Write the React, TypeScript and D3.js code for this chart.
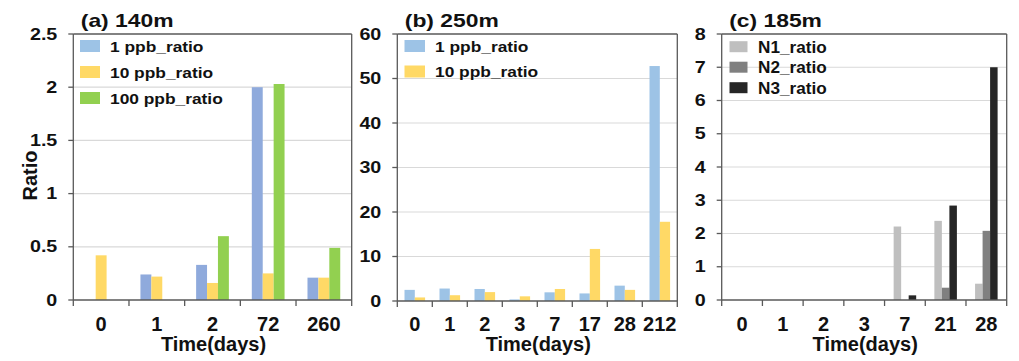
import React from "react";
import * as d3 from "d3";

// ---------- data ----------
const catsA = ["0", "1", "2", "72", "260"];
const a1ppb = [0, 0.24, 0.33, 2.0, 0.21];
const a10ppb = [0.42, 0.22, 0.16, 0.25, 0.21];
const a100ppb = [0, 0, 0.6, 2.03, 0.49];
const ticksA = [0, 0.5, 1, 1.5, 2, 2.5];
const ticksALabels = ["0", "0.5", "1", "1.5", "2", "2.5"];

const catsB = ["0", "1", "2", "3", "7", "17", "28", "212"];
const b1ppb = [2.5, 2.8, 2.7, 0.35, 1.95, 1.7, 3.45, 52.8];
const b10ppb = [0.8, 1.3, 2.0, 1.05, 2.7, 11.7, 2.5, 17.8];
const ticksB = [0, 10, 20, 30, 40, 50, 60];

const catsC = ["0", "1", "2", "3", "7", "21", "28"];
const cN1 = [0, 0, 0, 0, 2.21, 2.38, 0.49];
const cN2 = [0, 0, 0, 0, 0, 0.37, 2.08];
const cN3 = [0, 0, 0, 0, 0.14, 2.84, 7.0];
const ticksC = [0, 1, 2, 3, 4, 5, 6, 7, 8];

const FONT = "'Liberation Sans', Arial, sans-serif";
const AXIS = "#595959";
const GRID = "#d9d9d9";

type Series = { name: string; values: number[]; color: string; legendColor: string };
type Panel = {
  title: string;
  cats: string[];
  series: Series[];
  ticks: number[];
  tickLabels: string[];
  yMax: number;
  left: number;
  right: number;
  top: number;
  bottom: number;
  padOuter: number;
  legend: { x: number; y0: number; dy: number; sw: number; sh: number; tx: number; fs: number; sx: number };
};

const panels: Panel[] = [
  {
    title: "(a) 140m",
    cats: catsA,
    series: [
      { name: "1 ppb_ratio", values: a1ppb, color: "#8faadc", legendColor: "#9dc3e6" },
      { name: "10 ppb_ratio", values: a10ppb, color: "#ffd966", legendColor: "#ffd966" },
      { name: "100 ppb_ratio", values: a100ppb, color: "#92d050", legendColor: "#92d050" },
    ],
    ticks: ticksA,
    tickLabels: ticksALabels,
    yMax: 2.5,
    left: 73.3,
    right: 351.7,
    top: 34,
    bottom: 300,
    padOuter: 1.05,
    legend: { x: 80, y0: 46, dy: 26, sw: 20, sh: 12, tx: 110, fs: 15.5, sx: 1.12 },
  },
  {
    title: "(b) 250m",
    cats: catsB,
    series: [
      { name: "1 ppb_ratio", values: b1ppb, color: "#9dc3e6", legendColor: "#9dc3e6" },
      { name: "10 ppb_ratio", values: b10ppb, color: "#ffd966", legendColor: "#ffd966" },
    ],
    ticks: ticksB,
    tickLabels: ticksB.map(String),
    yMax: 60,
    left: 397.3,
    right: 677.3,
    top: 34,
    bottom: 301,
    padOuter: 0.7,
    legend: { x: 404.5, y0: 46, dy: 25.5, sw: 20.5, sh: 12, tx: 435, fs: 15.5, sx: 1.12 },
  },
  {
    title: "(c) 185m",
    cats: catsC,
    series: [
      { name: "N1_ratio", values: cN1, color: "#bfbfbf", legendColor: "#bfbfbf" },
      { name: "N2_ratio", values: cN2, color: "#808080", legendColor: "#808080" },
      { name: "N3_ratio", values: cN3, color: "#262626", legendColor: "#262626" },
    ],
    ticks: ticksC,
    tickLabels: ticksC.map(String),
    yMax: 8,
    left: 721.7,
    right: 1006.7,
    top: 34,
    bottom: 300,
    padOuter: 1.21,
    legend: { x: 729.5, y0: 46.7, dy: 20.5, sw: 18, sh: 11, tx: 758, fs: 16.5, sx: 1.04 },
  },
];

function PanelView({ p, showYLabel }: { p: Panel; showYLabel: boolean }) {
  const x = d3.scaleBand<string>().domain(p.cats).range([p.left, p.right]).paddingInner(0).paddingOuter(0);
  const xs = d3
    .scaleBand<string>()
    .domain(p.series.map((s) => s.name))
    .range([0, x.bandwidth()])
    .paddingInner(0)
    .paddingOuter(p.padOuter);
  const y = d3.scaleLinear().domain([0, p.yMax]).range([p.bottom, p.top]);
  const boundaries = p.cats.map((c) => x(c)!).concat([p.right]);
  const cx = (p.left + p.right) / 2;
  return (
    <g>
      {/* grid */}
      {p.ticks
        .filter((t) => t > 0 && t < p.yMax)
        .map((t) => (
          <line key={"g" + t} x1={p.left} x2={p.right} y1={y(t)} y2={y(t)} stroke={GRID} strokeWidth={1.2} />
        ))}
      {/* bars */}
      {p.series.map((s) =>
        p.cats.map((c, i) =>
          s.values[i] > 0 ? (
            <rect
              key={s.name + c}
              x={x(c)! + xs(s.name)!}
              y={y(s.values[i])}
              width={xs.bandwidth()}
              height={y(0) - y(s.values[i])}
              fill={s.color}
            />
          ) : null
        )
      )}
      {/* frame */}
      <line x1={p.left} x2={p.right} y1={p.top} y2={p.top} stroke={AXIS} strokeWidth={1.3} />
      <line x1={p.right} x2={p.right} y1={p.top} y2={p.bottom} stroke={AXIS} strokeWidth={1.3} />
      <line x1={p.left} x2={p.left} y1={p.top} y2={p.bottom} stroke={AXIS} strokeWidth={1.3} />
      <line x1={p.left} x2={p.right} y1={p.bottom} y2={p.bottom} stroke={AXIS} strokeWidth={1.3} />
      {/* y ticks */}
      {p.ticks.map((t, i) => (
        <g key={"yt" + t}>
          <line x1={p.left - 5} x2={p.left} y1={y(t)} y2={y(t)} stroke={AXIS} strokeWidth={1.3} />
          <text
            transform={`translate(${p.left - 16},${y(t) + 5.5}) scale(1.23,1)`}
            textAnchor="end"
            fontFamily={FONT}
            fontWeight="bold"
            fontSize={16}
            fill="#111"
          >
            {p.tickLabels[i]}
          </text>
        </g>
      ))}
      {/* x ticks */}
      {boundaries.map((b, i) => (
        <line key={"xt" + i} x1={b} x2={b} y1={p.bottom} y2={p.bottom + 6} stroke={AXIS} strokeWidth={1.3} />
      ))}
      {p.cats.map((c) => (
        <text
          key={"xl" + c}
          x={x(c)! + x.bandwidth() / 2}
          y={331}
          textAnchor="middle"
          fontFamily={FONT}
          fontWeight="bold"
          fontSize={20}
          fill="#111"
        >
          {c}
        </text>
      ))}
      <text x={cx + 1} y={351} textAnchor="middle" fontFamily={FONT} fontWeight="bold" fontSize={20} fill="#111">
        Time(days)
      </text>
      {/* title */}
      <text
        transform={`translate(${p.left + 7.5},27) scale(1.23,1)`}
        fontFamily={FONT}
        fontWeight="bold"
        fontSize={18.6}
        fill="#111"
      >
        {p.title}
      </text>
      {/* legend */}
      {p.series.map((s, i) => {
        const ly = p.legend.y0 + i * p.legend.dy;
        return (
          <g key={"lg" + s.name}>
            <rect x={p.legend.x} y={ly - p.legend.sh / 2} width={p.legend.sw} height={p.legend.sh} fill={s.legendColor} />
            <text
              transform={`translate(${p.legend.tx},${ly + p.legend.fs * 0.36}) scale(${p.legend.sx},1)`}
              fontFamily={FONT}
              fontWeight="bold"
              fontSize={p.legend.fs}
              fill="#111"
            >
              {s.name}
            </text>
          </g>
        );
      })}
      {showYLabel && (
        <text
          transform={`translate(37,175.5) rotate(-90)`}
          textAnchor="middle"
          fontFamily={FONT}
          fontWeight="bold"
          fontSize={20}
          fill="#111"
        >
          Ratio
        </text>
      )}
    </g>
  );
}

export default function App() {
  return (
    <svg
      width={1019}
      height={361}
      style={{ position: "absolute", left: 0, top: 0, background: "#fff" }}
      xmlns="http://www.w3.org/2000/svg"
    >
      <rect x={0} y={0} width={1019} height={361} fill="#fff" />
      {panels.map((p, i) => (
        <PanelView key={p.title} p={p} showYLabel={i === 0} />
      ))}
    </svg>
  );
}
